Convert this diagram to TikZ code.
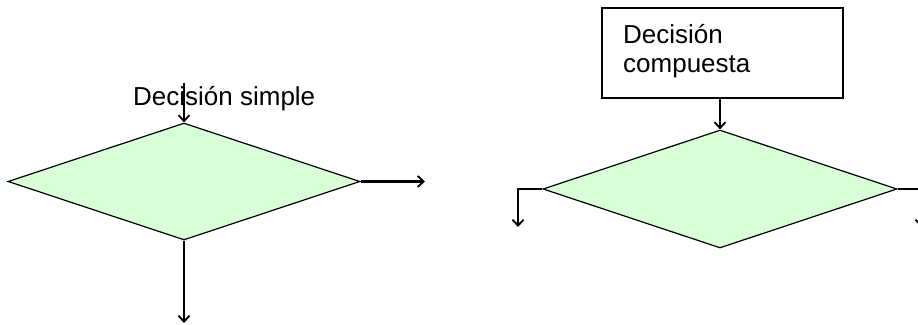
\documentclass[tikz,border=0pt]{standalone}
\usepackage{fontspec}
\setmainfont{Liberation Sans}
\usetikzlibrary{shapes.geometric,arrows.meta}
\definecolor{decfill}{RGB}{216,255,216}
\tikzset{
  decision/.style={diamond, draw=black, line width=1.2pt, fill=decfill, inner sep=0pt},
  flow/.style={line width=2.4pt, -{Straight Barb[length=6pt,width=11pt,line width=1.8pt]}},
  label/.style={inner sep=0pt, font=\fontsize{26}{29.5}\selectfont},
  titlebox/.style={rectangle, draw=black, line width=1.2pt, fill=white, inner sep=0pt}
}
\begin{document}
\begin{tikzpicture}[x=1pt,y=-1pt]
\useasboundingbox (0,0) rectangle (918,324);
\clip (0,0) rectangle (918,324);
\fill[white] (0,0) rectangle (918,324);

% simple decision
\node[decision, minimum width=352pt, minimum height=117pt, aspect=3.01] (d1) at (184,181.5) {};
\node[label, anchor=base west] (t1) at (133,105) {Decisión simple};
\coordinate (d1in) at (184,83);
\coordinate (d1out) at (425,181.5);
\coordinate (d1down) at (184,323);
\draw[flow] (d1in) -- (d1.north);
\draw[flow] (d1.east) -- (d1out);
\draw[flow] (d1.south) -- (d1down);

% compound decision
\node[titlebox, minimum width=241pt, minimum height=90pt] (b2) at (722.5,53) {};
\node[label, anchor=base west] (t2a) at (623,43) {Decisión};
\node[label, anchor=base west] (t2b) at (623,72.5) {compuesta};
\node[decision, minimum width=354pt, minimum height=118pt, aspect=3.0] (d2) at (720,189) {};
\coordinate (d2l) at (518,189);
\coordinate (d2lend) at (518,227);
\coordinate (d2r) at (921,189);
\coordinate (d2rend) at (921,227);
\draw[flow] (d2.north |- b2.south) -- (d2.north);
\draw[flow] (d2.west) -- (d2l) -- (d2lend);
\draw[flow] (d2.east) -- (d2r) -- (d2rend);
\end{tikzpicture}
\end{document}
